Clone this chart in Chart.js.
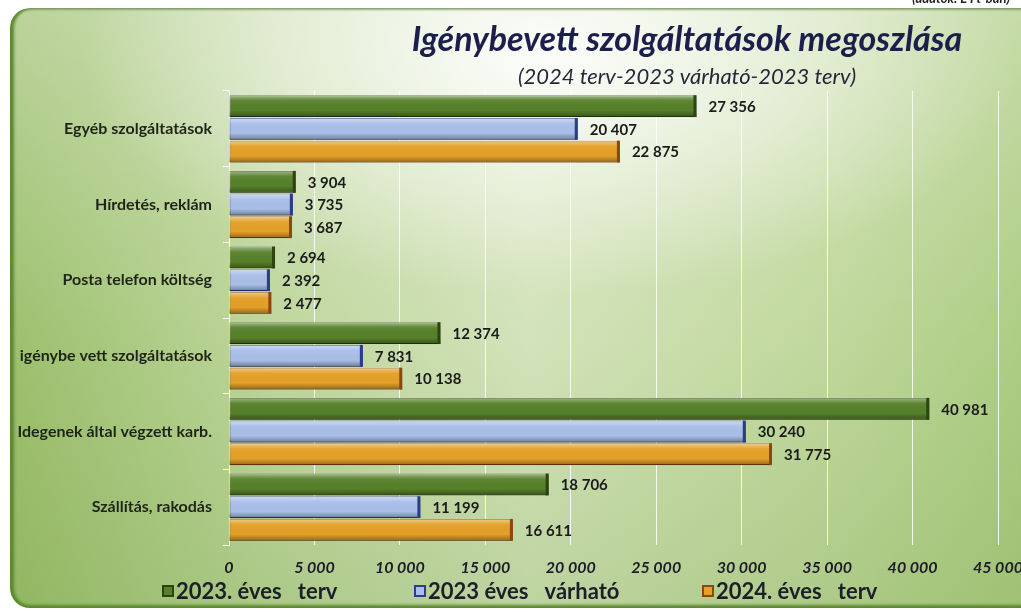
<!DOCTYPE html>
<html>
<head>
<meta charset="utf-8">
<script src="https://cdn.jsdelivr.net/npm/chart.js@4.4.1/dist/chart.umd.min.js"></script>
<style>
  html, body { margin: 0; padding: 0; background: #fff; }
  #wrap { position: relative; width: 1021px; height: 612px; overflow: hidden; }
  .panel {
    position: absolute; left: 10px; top: 8px; width: 1040px; height: 600px;
    border-radius: 20px;
    background:
      radial-gradient(ellipse 45% 40% at 52% 8%, rgba(255,255,255,0.9), rgba(255,255,255,0) 100%),
      linear-gradient(180deg, rgba(255,255,255,0.3) 0%, rgba(255,255,255,0) 55%, rgba(90,140,40,0.18) 100%),
      linear-gradient(90deg, #9dc06e 0%, #bed69c 25%, #d3e3ba 50%, #bfd79b 80%, #abcb80 100%);
    box-shadow: inset 4px 0 3px #5b8a2e, inset 0 -3px 3px #5b8a2e, inset 0 2px 2px rgba(120,140,110,0.6);
  }
  canvas { position: absolute; left: 0; top: 0; }
</style>
</head>
<body>
<div id="wrap">
  <div class="panel"></div>
  <canvas id="chart" width="1021" height="612"></canvas>
</div>
<script>
const categories = ['Egyéb szolgáltatások', 'Hírdetés, reklám', 'Posta telefon költség', 'igénybe vett szolgáltatások', 'Idegenek által végzett karb.', 'Szállítás, rakodás'];
const plan2023 = [27356, 3904, 2694, 12374, 40981, 18706];
const expected2023 = [20407, 3735, 2392, 7831, 30240, 11199];
const plan2024 = [22875, 3687, 2477, 10138, 31775, 16611];
const seriesNames = ['2023. éves   terv', '2023 éves   várható', '2024. éves   terv'];
const titleText = 'Igénybevett szolgáltatások megoszlása';
const subtitleText = '(2024 terv-2023 várható-2023 terv)';
const noteText = '(adatok: E Ft-ban)';

const fills = ['#56802a', '#a9bfe8', '#e4a028'];
const edges = ['#2b4410', '#2b3d86', '#8a4810'];

// 27356 -> "27 356"
const fmt = v => String(v).replace(/\B(?=(\d{3})+(?!\d))/g, ' ');

// light top / dark bottom strip on every bar, plus value labels
const barLook = {
    id: 'barLook',
    afterDatasetsDraw(chart) {
        const ctx = chart.ctx;
        chart.data.datasets.forEach((ds, di) => {
            const meta = chart.getDatasetMeta(di);
            meta.data.forEach((bar, i) => {
                const { x, y, base, height } = bar.getProps(['x', 'y', 'base', 'height'], true);
                const top = y - height / 2;
                const g = ctx.createLinearGradient(0, top, 0, top + height);
                g.addColorStop(0, 'rgba(255,255,255,0.45)');
                g.addColorStop(0.25, 'rgba(255,255,255,0.05)');
                g.addColorStop(0.7, 'rgba(0,0,0,0)');
                g.addColorStop(1, 'rgba(0,0,0,0.35)');
                ctx.save();
                ctx.fillStyle = g;
                ctx.fillRect(base, top, x - base, height);
                ctx.fillStyle = edges[di];
                ctx.fillRect(x - 3, top, 3, height);
                ctx.fillStyle = '#1b1b1b';
                ctx.font = 'bold 15px Lato';
                ctx.textBaseline = 'middle';
                ctx.textAlign = 'left';
                ctx.fillText(fmt(ds.data[i]), x + 12, y + 1);
                ctx.restore();
            });
        });
    }
};

const decor = {
    id: 'decor',
    afterDraw(chart) {
        const ctx = chart.ctx;
        ctx.save();
        ctx.textAlign = 'center';
        ctx.textBaseline = 'middle';
        ctx.fillStyle = '#1c1e4c';
        ctx.font = 'italic bold 34px Lato';
        ctx.fillText(titleText, 687, 40);
        ctx.fillStyle = '#26283a';
        ctx.font = 'italic 22px Lato';
        ctx.fillText(subtitleText, 687, 77);
        ctx.textAlign = 'right';
        ctx.textBaseline = 'alphabetic';
        ctx.font = 'italic bold 13px Lato';
        ctx.fillStyle = '#222';
        ctx.fillText(noteText, 1010, 3);

        // legend
        const starts = [162, 414, 702];
        ctx.textAlign = 'left';
        ctx.textBaseline = 'middle';
        ctx.font = 'bold 22px Lato';
        chart.data.datasets.forEach((ds, i) => {
            const lx = starts[i], ly = 591;
            ctx.fillStyle = edges[i];
            ctx.fillRect(lx, ly - 6, 12, 12);
            ctx.fillStyle = fills[i];
            ctx.fillRect(lx + 2, ly - 4, 8, 8);
            ctx.fillStyle = '#1b1f2a';
            ctx.fillText(ds.label, lx + 14, ly + 1);
        });
        ctx.restore();
    }
};

new Chart(document.getElementById('chart'), {
    type: 'bar',
    data: {
        labels: categories,
        datasets: [plan2023, expected2023, plan2024].map((d, i) => ({
            label: seriesNames[i],
            data: d,
            backgroundColor: fills[i],
            borderColor: edges[i],
            borderWidth: 1,
            borderSkipped: false,
            categoryPercentage: 0.9,
            barPercentage: 0.96
        }))
    },
    options: {
        indexAxis: 'y',
        responsive: false,
        animation: false,
        layout: { padding: { left: 0, right: 23, top: 91, bottom: 37 } },
        plugins: { legend: { display: false }, title: { display: false }, tooltip: { enabled: false } },
        scales: {
            x: {
                min: 0, max: 45000,
                ticks: {
                    stepSize: 5000,
                    callback: v => fmt(v),
                    color: '#1b1b2a',
                    font: { family: 'Lato', size: 16, style: 'italic', weight: 'bold' },
                    padding: 13,
                    maxRotation: 0
                },
                grid: { color: 'rgba(255,255,255,0.85)', drawTicks: false },
                border: { display: false },
                afterFit(scale) { scale.paddingLeft = 0; scale.paddingRight = 0; scale.height = 30; }
            },
            y: {
                ticks: {
                    color: '#1f2418',
                    font: { family: 'Lato', size: 16, weight: 'bold' },
                    padding: 11
                },
                grid: { color: '#ffffff', drawOnChartArea: false, tickLength: 6 },
                border: { color: '#ffffff', width: 1 },
                afterFit(scale) { scale.width = 229; }
            }
        }
    },
    plugins: [barLook, decor]
});
</script>
</body>
</html>
